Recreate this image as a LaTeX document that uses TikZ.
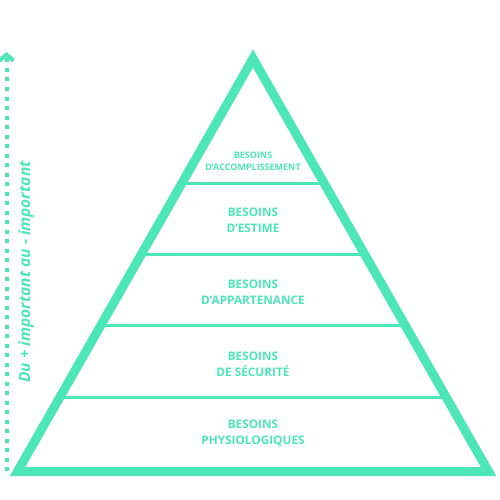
\documentclass[tikz,border=0pt]{standalone}
\usepackage{fontspec}
\setmainfont{Open Sans}
\usetikzlibrary{calc}
\usetikzlibrary{arrows.meta}
\usetikzlibrary{positioning}
\definecolor{mint}{RGB}{77,230,183}

\begin{document}
\begin{tikzpicture}[x=1pt,y=-1pt,
    level/.style={text=mint, align=center, inner sep=0pt, font=\bfseries\fontsize{11.8}{16}\selectfont},
    toplevel/.style={level, font=\bfseries\fontsize{9}{12.5}\selectfont},
    divider/.style={mint, line width=3},
    ]
\useasboundingbox (0,0) rectangle (500,500);
\edef\cx{253}

\coordinate (apex) at (\cx,58.5);
\coordinate (baseL) at (17.5,471.5);
\coordinate (baseR) at (488.5,471.5);

\foreach \t in {0.3015,0.4734,0.6453,0.822}
  \draw [divider] ($(apex)!\t!(baseL)$) -- ($(apex)!\t!(baseR)$);
\draw [mint, line width=9, line join=miter] (apex) -- (baseL) -- (baseR) -- cycle;

\node [toplevel] (accomp) at (\cx,161.5) {BESOINS\\D'ACCOMPLISSEMENT};
\node [level] (estime) at (\cx,220.5) {BESOINS\\D'ESTIME};
\node [level] (appart) at (\cx,292.5) {BESOINS\\D'APPARTENANCE};
\node [level] (secu) at (\cx,364) {BESOINS\\DE SÉCURITÉ};
\node [level] (physio) at (\cx,433) {BESOINS\\PHYSIOLOGIQUES};

\coordinate (arrowBot) at (6.5,471);
\coordinate (arrowTop) at (6.5,52);
\draw [mint, line width=4, dash pattern=on 4 off 5.5, -{Straight Barb[length=6pt,width=14pt]}] (arrowBot) -- (arrowTop);
\node [mint, rotate=90, font=\bfseries\itshape\fontsize{15.5}{18}\selectfont] (sens) at (26,272) {Du + important au - important};
\end{tikzpicture}
\end{document}
